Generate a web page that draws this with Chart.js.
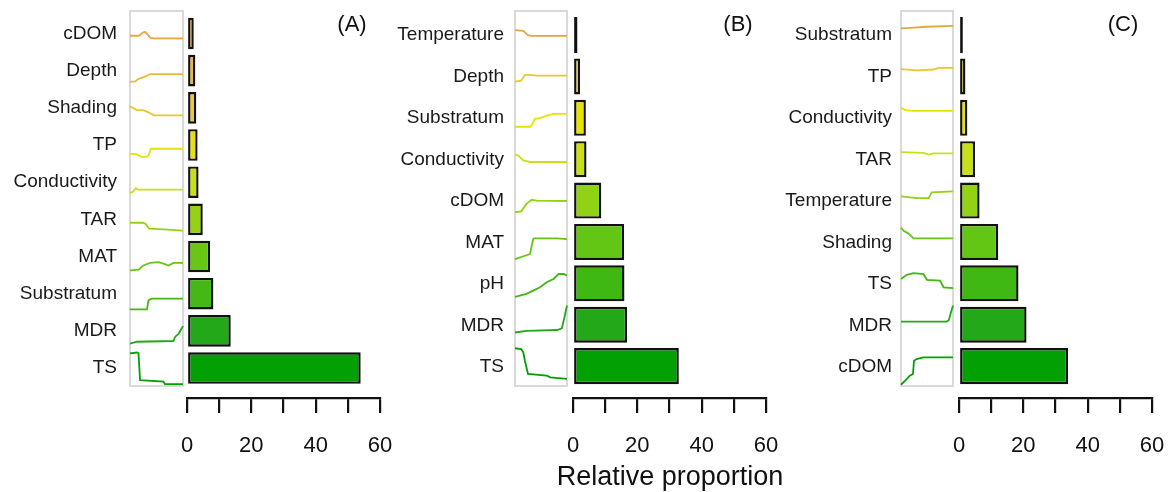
<!DOCTYPE html>
<html lang="en">
<head>
<meta charset="utf-8" />
<title>Relative proportion</title>
<script src="https://cdn.jsdelivr.net/npm/chart.js/dist/chart.umd.min.js"></script>
<style>
  * { margin: 0; padding: 0; }
  body { background: #fff; width: 1168px; height: 492px; overflow: hidden; position: relative; }
  canvas { position: absolute; top: 0; }
  .tag { position: absolute; top: 11px; width: 60px; text-align: center; line-height: 26px;
         font: 22px "Liberation Sans", Arial, sans-serif; color: #111; }
  .xtitle { position: absolute; left: 520px; width: 300px; top: 461px; text-align: center;
            line-height: 32px; font: 27px "Liberation Sans", Arial, sans-serif; color: #111; }
</style>
</head>
<body>
<canvas id="curvesA"></canvas><canvas id="barsA"></canvas>
<canvas id="curvesB"></canvas><canvas id="barsB"></canvas>
<canvas id="curvesC"></canvas><canvas id="barsC"></canvas>
<div class="tag" style="left:322px">(A)</div>
<div class="tag" style="left:708px">(B)</div>
<div class="tag" style="left:1093px">(C)</div>
<div class="xtitle">Relative proportion</div>

<script>
// panel A
const labelsA = ['cDOM', 'Depth', 'Shading', 'TP', 'Conductivity', 'TAR', 'MAT', 'Substratum', 'MDR', 'TS'];
const valuesA = [2.1, 2.6, 2.9, 3.3, 3.6, 4.9, 7.2, 8.2, 13.6, 54.0];
// partial response curves: [x (0-1), response in band units]
const curvesA = [
  [[0, -0.06], [0.17, -0.06], [0.25, 0.03], [0.29, 0.04], [0.38, -0.11], [0.45, -0.13], [1, -0.13]],
  [[0, -0.30], [0.1, -0.29], [0.16, -0.22], [0.25, -0.18], [0.38, -0.09], [1, -0.09]],
  [[0, 0.04], [0.13, -0.06], [0.25, -0.06], [0.35, -0.12], [0.45, -0.20], [1, -0.20]],
  [[0, -0.23], [0.13, -0.25], [0.22, -0.32], [0.32, -0.32], [0.36, -0.25], [0.39, -0.10], [1, -0.10]],
  [[0, -0.29], [0.06, -0.25], [0.11, -0.16], [0.16, -0.20], [1, -0.20]],
  [[0, -0.09], [0.25, -0.09], [0.30, -0.13], [0.36, -0.25], [0.63, -0.27], [1, -0.30]],
  [[0, -0.37], [0.16, -0.35], [0.25, -0.24], [0.38, -0.17], [0.54, -0.15], [0.63, -0.19], [0.73, -0.24], [0.82, -0.17], [1, -0.17]],
  [[0, -0.42], [0.32, -0.42], [0.35, -0.17], [0.41, -0.13], [1, -0.13]],
  [[0, -0.34], [0.13, -0.29], [0.82, -0.27], [0.85, -0.16], [0.92, -0.07], [1, 0.13]],
  [[0, 0.40], [0.13, 0.42], [0.16, 0.40], [0.19, -0.32], [0.63, -0.36], [0.66, -0.43], [1, -0.43]]
];

// panel B
const labelsB = ['Temperature', 'Depth', 'Substratum', 'Conductivity', 'cDOM', 'MAT', 'pH', 'MDR', 'TS'];
const valuesB = [1.4, 2.2, 4.0, 4.2, 8.8, 15.9, 16.0, 16.8, 32.9];
const curvesB = [
  [[0, 0.12], [0.16, 0.10], [0.25, 0], [0.32, -0.02], [1, -0.02]],
  [[0, -0.12], [0.12, -0.10], [0.19, 0.04], [0.29, 0.04], [0.42, 0.02], [1, 0.02]],
  [[0, -0.21], [0.29, -0.21], [0.32, -0.18], [0.38, -0.02], [0.48, 0], [0.61, 0.06], [0.74, 0.10], [1, 0.10]],
  [[0, 0.11], [0.06, 0.10], [0.16, -0.02], [0.29, -0.06], [1, -0.06]],
  [[0, -0.27], [0.12, -0.25], [0.22, -0.07], [0.32, 0.03], [0.42, 0.01], [1, 0]],
  [[0, -0.40], [0.19, -0.32], [0.29, -0.28], [0.34, 0.04], [0.36, 0.10], [0.81, 0.10], [1, 0.08]],
  [[0, -0.31], [0.22, -0.24], [0.35, -0.16], [0.48, -0.08], [0.61, 0.04], [0.74, 0.12], [0.84, 0.24], [0.94, 0.24], [1, 0.20]],
  [[0, -0.17], [0.22, -0.13], [0.81, -0.11], [0.90, -0.07], [0.95, 0.19], [1, 0.48]],
  [[0, 0.45], [0.12, 0.43], [0.16, 0.35], [0.19, 0.15], [0.25, -0.17], [0.61, -0.21], [0.68, -0.25], [1, -0.29]]
];

// panel C
const labelsC = ['Substratum', 'TP', 'Conductivity', 'TAR', 'Temperature', 'Shading', 'TS', 'MDR', 'cDOM'];
const valuesC = [1.2, 2.0, 2.6, 5.0, 6.4, 12.2, 18.5, 21.0, 33.9];
const curvesC = [
  [[0, 0.16], [0.24, 0.18], [0.5, 0.20], [1, 0.22]],
  [[0, 0.18], [0.30, 0.15], [0.63, 0.17], [0.72, 0.21], [1, 0.21]],
  [[0, 0.25], [0.08, 0.19], [0.21, 0.17], [1, 0.17]],
  [[0, 0.18], [0.43, 0.16], [0.53, 0.12], [0.63, 0.15], [1, 0.15]],
  [[0, 0.11], [0.30, 0.07], [0.53, 0.07], [0.59, 0.21], [1, 0.23]],
  [[0, 0.36], [0.05, 0.28], [0.14, 0.22], [0.24, 0.10], [1, 0.10]],
  [[0, 0.12], [0.11, 0.22], [0.24, 0.26], [0.43, 0.24], [0.5, 0.10], [0.75, 0.08], [0.82, -0.08], [1, -0.10]],
  [[0, 0.09], [0.88, 0.09], [0.92, 0.13], [0.96, 0.31], [1, 0.48]],
  [[0, -0.43], [0.08, -0.33], [0.17, -0.21], [0.23, -0.17], [0.25, 0.15], [0.30, 0.19], [0.43, 0.23], [1, 0.23]]
];

const xTicks = [0, 10, 20, 30, 40, 50, 60];
const xTickLabels = ['0', '20', '40', '60'];

// styles
const colorsA = ['#e9a844', '#e8b83c', '#e8c834', '#e6e012', '#c8e014', '#96d214', '#68c614', '#44b814', '#22a818', '#02a002'];
const colorsB = ['#e2a83c', '#e8c82a', '#e8e200', '#c8e014', '#92d214', '#64c614', '#40b814', '#22a818', '#02a002'];
const FONT = '"Liberation Sans", Arial, sans-serif';

const panels = [
  { id: 'A', labels: labelsA, values: valuesA, curves: curvesA, colors: colorsA,
    yMin: -0.605, boxMax: 9.48, axisMax: 9.806, curveLeft: 0, boxLeft: 130, boxRight: 183,
    labelPad: 13, barLeft: 173, zero: 187, sixty: 380, barPct: 0.85 },
  { id: 'B', labels: labelsB, values: valuesB, curves: curvesB, colors: colorsB,
    yMin: -0.58, boxMax: 8.46, axisMax: 8.77, curveLeft: 390, boxLeft: 515, boxRight: 567,
    labelPad: 11, barLeft: 559, zero: 573, sixty: 766, barPct: 0.87 },
  { id: 'C', labels: labelsC, values: valuesC, curves: curvesC, colors: colorsB,
    yMin: -0.58, boxMax: 8.46, axisMax: 8.77, curveLeft: 776, boxLeft: 901, boxRight: 953,
    labelPad: 9, barLeft: 945, zero: 959, sixty: 1152, barPct: 0.87 }
];

const boxFrame = {
  id: 'boxFrame',
  beforeDatasetsDraw(chart) {
    const { ctx, chartArea: a } = chart;
    ctx.save();
    ctx.strokeStyle = '#d6d6d6';
    ctx.lineWidth = 1.8;
    ctx.strokeRect(a.left, a.top, a.right - a.left, a.bottom - a.top);
    ctx.restore();
  }
};

// keep the chart area where the layout padding puts it
function noScalePadding(s) {
  s.paddingTop = 0; s.paddingBottom = 0; s.paddingLeft = 0; s.paddingRight = 0;
}

function makeCurves(p) {
  const canvas = document.getElementById('curves' + p.id);
  const w = p.boxRight + 5 - p.curveLeft;
  canvas.width = w;
  canvas.height = 492;
  canvas.style.left = p.curveLeft + 'px';
  const datasets = p.curves.map((pts, i) => ({
    data: pts.map(([x, v]) => ({ x: x, y: i - v })),
    borderColor: p.colors[i],
    borderWidth: 1.8,
    pointRadius: 0,
    tension: 0,
    clip: false
  }));
  new Chart(canvas, {
    type: 'line',
    data: { datasets },
    options: {
      responsive: false,
      animation: false,
      events: [],
      layout: { padding: { top: 11, bottom: 492 - 386, left: 0, right: 5 } },
      plugins: { legend: { display: false }, tooltip: { enabled: false } },
      scales: {
        x: { type: 'linear', min: 0, max: 1, display: false },
        y: {
          type: 'linear', reverse: true, min: p.yMin, max: p.boxMax, offset: false,
          afterFit: (s) => { s.width = p.boxLeft - p.curveLeft; noScalePadding(s); },
          afterBuildTicks: (s) => { s.ticks = p.labels.map((_, i) => ({ value: i })); },
          grid: { display: false, drawTicks: false },
          border: { display: false },
          ticks: {
            padding: p.labelPad, color: '#1a1a1a',
            font: { family: FONT, size: 19 },
            callback: (v) => p.labels[v]
          }
        }
      }
    },
    plugins: [boxFrame]
  });
}

function makeBars(p) {
  const canvas = document.getElementById('bars' + p.id);
  const w = 225;
  canvas.width = w;
  canvas.height = 492;
  canvas.style.left = p.barLeft + 'px';
  new Chart(canvas, {
    type: 'bar',
    data: {
      datasets: [{
        data: p.values.map((v, i) => ({ x: v, y: i })),
        backgroundColor: p.colors,
        borderColor: '#111',
        borderWidth: 2.4,
        borderSkipped: false,
        barPercentage: p.barPct,
        categoryPercentage: 1
      }]
    },
    options: {
      indexAxis: 'y',
      responsive: false,
      animation: false,
      events: [],
      layout: { padding: { left: p.zero - p.barLeft, right: p.barLeft + w - p.sixty, top: 11, bottom: 0 } },
      plugins: { legend: { display: false }, tooltip: { enabled: false } },
      scales: {
        y: {
          type: 'linear', reverse: true, min: p.yMin, max: p.axisMax, offset: false, display: false,
          afterBuildTicks: (s) => { s.ticks = p.labels.map((_, i) => ({ value: i })); }
        },
        x: {
          type: 'linear', min: 0, max: 60, position: 'bottom', offset: false,
          afterFit: (s) => { s.height = 94; noScalePadding(s); },
          afterBuildTicks: (s) => { s.ticks = xTicks.map((v) => ({ value: v })); },
          grid: { drawOnChartArea: false, drawTicks: true, tickLength: 15, color: '#111', lineWidth: 2.2 },
          border: { display: true, color: '#111', width: 2.2 },
          ticks: {
            padding: 20, color: '#111', maxRotation: 0, autoSkip: false,
            font: { family: FONT, size: 22 },
            callback: (v) => xTickLabels.includes(String(v)) ? String(v) : ''
          }
        }
      }
    }
  });
}

panels.forEach((p) => { makeCurves(p); makeBars(p); });
</script>
</body>
</html>
